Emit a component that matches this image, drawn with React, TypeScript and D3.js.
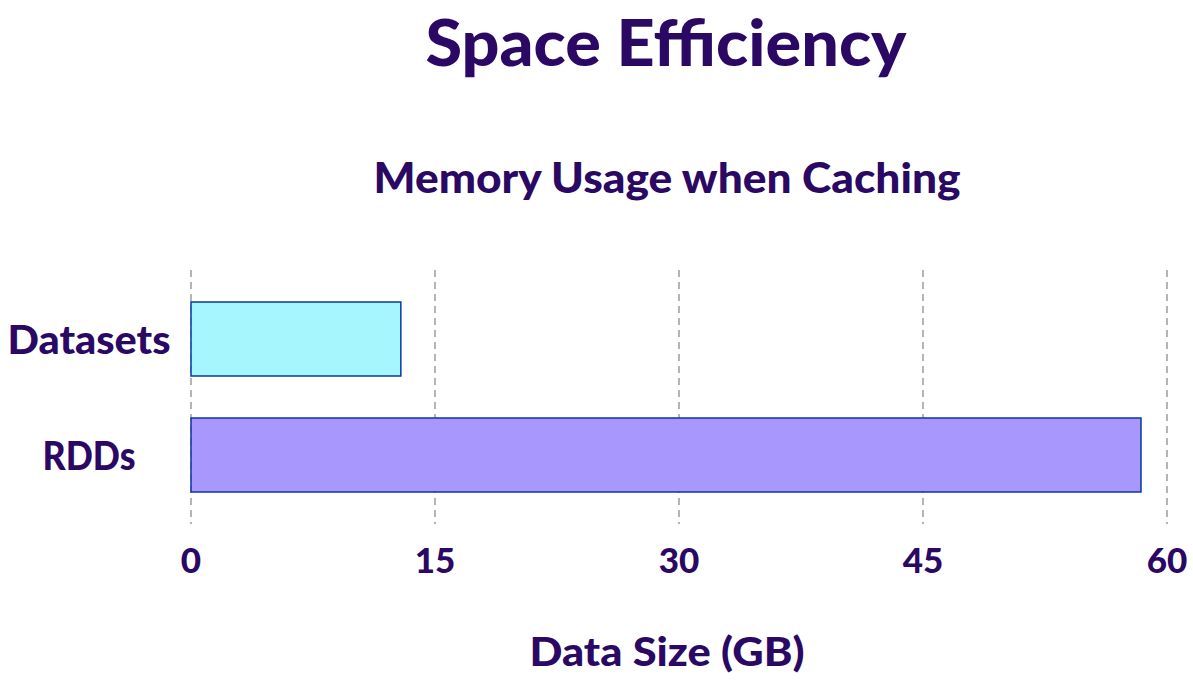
import * as d3 from 'd3';
import { useEffect } from 'react';

const categories = ['Datasets', 'RDDs'];
const sizes = [12.9, 58.4];
const barColors = ['#a6f7fd', '#a897fc'];
const ticks = [0, 15, 30, 45, 60];

const ink = '#2a0863';
const font = 'Lato, "DejaVu Sans", sans-serif';

function App() {
  useEffect(() => {
    document.body.style.margin = '0';
  }, []);

  const x = d3.scaleLinear().domain([0, 60]).range([191, 1167]);
  const y = d3.scaleBand().domain(categories).range([270, 524]).paddingInner(0.362).paddingOuter(0.276);

  return (
    <svg width={1193} height={682} style={{ display: 'block', background: '#fff' }} fontFamily={font} fontWeight={900} fill={ink}>
      <text x={666} y={66} textAnchor="middle" fontSize={64} textLength={481} lengthAdjust="spacingAndGlyphs">Space Efficiency</text>
      <text x={667} y={193} textAnchor="middle" fontSize={42} textLength={587} lengthAdjust="spacingAndGlyphs">Memory Usage when Caching</text>

      {ticks.map(t => (
        <line key={'g' + t} x1={x(t)} x2={x(t)} y1={270} y2={524} stroke="#b5b5b5" strokeWidth={2} strokeDasharray="7,5" />
      ))}

      {categories.map((c, i) => (
        <rect key={c} x={x(0)} y={y(c)} width={x(sizes[i]) - x(0)} height={y.bandwidth()} fill={barColors[i]} stroke="#0836a6" strokeWidth={1.5} />
      ))}

      {categories.map(c => (
        <text key={'l' + c} x={89} y={(y(c) as number) + y.bandwidth() / 2 + 15} textAnchor="middle" fontSize={40}
          textLength={c === 'Datasets' ? 163 : 93} lengthAdjust="spacingAndGlyphs">{c}</text>
      ))}

      {ticks.map(t => (
        <text key={'t' + t} x={x(t)} y={573} textAnchor="middle" fontSize={35}>{t}</text>
      ))}

      <text x={667} y={666} textAnchor="middle" fontSize={40} textLength={275} lengthAdjust="spacingAndGlyphs">Data Size (GB)</text>
    </svg>
  );
}

export default App;
